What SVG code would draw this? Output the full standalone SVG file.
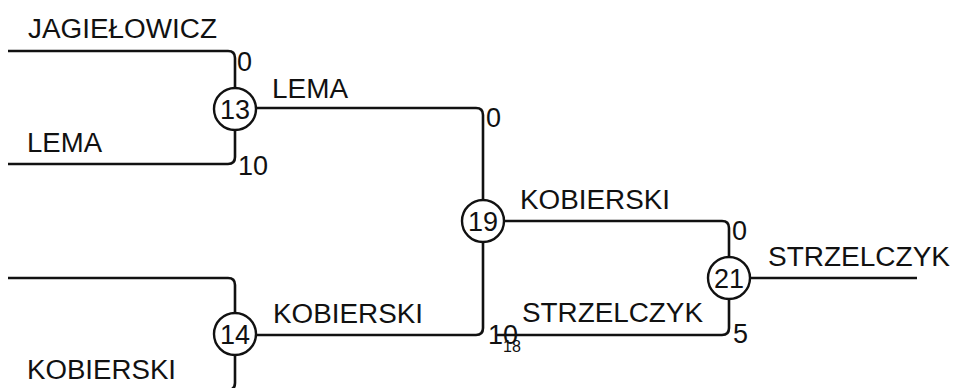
<svg xmlns="http://www.w3.org/2000/svg" width="953" height="388" viewBox="0 0 953 388">
<style>
.e{fill:none;stroke:#111;stroke-width:2.6}
.n{fill:#fff;stroke:#111;stroke-width:2.4}
.t{font-family:"Liberation Sans",Arial,sans-serif;font-size:27px;fill:#111}
.d{font-family:"Liberation Sans",Arial,sans-serif;font-size:27px;fill:#111;text-anchor:middle}
.s{font-family:"Liberation Sans",Arial,sans-serif;font-size:16px;fill:#111}
</style>
<rect width="953" height="388" fill="#fff"/>
<g id="connectors">
<path class="e" d="M8,51 H228 Q235,51 235,58 V88"/>
<path class="e" d="M8,164 H228 Q235,164 235,157 V130"/>
<path class="e" d="M256,108 H476 Q483,108 483,115 V200"/>
<path class="e" d="M256,335 H476 Q483,335 483,328 V242"/>
<path class="e" d="M504,221 H722 Q729,221 729,228 V257"/>
<path class="e" d="M497,335 H722 Q729,335 729,328 V299"/>
<path class="e" d="M8,278 H228 Q235,278 235,285 V313"/>
<path class="e" d="M235,355 V383 Q235,390 228,390 H8"/>
<path class="e" d="M751,278 H917"/>
</g>
<g id="labels">
<text class="t" x="28" y="38" textLength="189" lengthAdjust="spacingAndGlyphs">JAGIEŁOWICZ</text>
<text class="t" x="27" y="152" textLength="75" lengthAdjust="spacingAndGlyphs">LEMA</text>
<text class="t" x="237" y="71">0</text>
<text class="t" x="238" y="175">10</text>
<text class="t" x="272" y="98" textLength="76" lengthAdjust="spacingAndGlyphs">LEMA</text>
<text class="t" x="486" y="127">0</text>
<text class="t" x="520" y="209" textLength="150" lengthAdjust="spacingAndGlyphs">KOBIERSKI</text>
<text class="t" x="732" y="240">0</text>
<text class="t" x="273" y="323" textLength="150" lengthAdjust="spacingAndGlyphs">KOBIERSKI</text>
<text class="t" x="488" y="344">10</text>
<text class="s" x="503" y="352">18</text>
<text class="t" x="522" y="322" textLength="181" lengthAdjust="spacingAndGlyphs">STRZELCZYK</text>
<text class="t" x="733" y="343">5</text>
<text class="t" x="768" y="266" textLength="182" lengthAdjust="spacingAndGlyphs">STRZELCZYK</text>
<text class="t" x="27" y="379" textLength="149" lengthAdjust="spacingAndGlyphs">KOBIERSKI</text>
</g>
<g id="n13"><circle class="n" cx="235" cy="109" r="21"/><text class="d" x="235" y="118.5">13</text></g>
<g id="n19"><circle class="n" cx="483" cy="221" r="21"/><text class="d" x="483" y="230.5">19</text></g>
<g id="n14"><circle class="n" cx="235" cy="334" r="21"/><text class="d" x="235" y="343.5">14</text></g>
<g id="n21"><circle class="n" cx="729" cy="278" r="21"/><text class="d" x="729" y="287.5">21</text></g>
</svg>
